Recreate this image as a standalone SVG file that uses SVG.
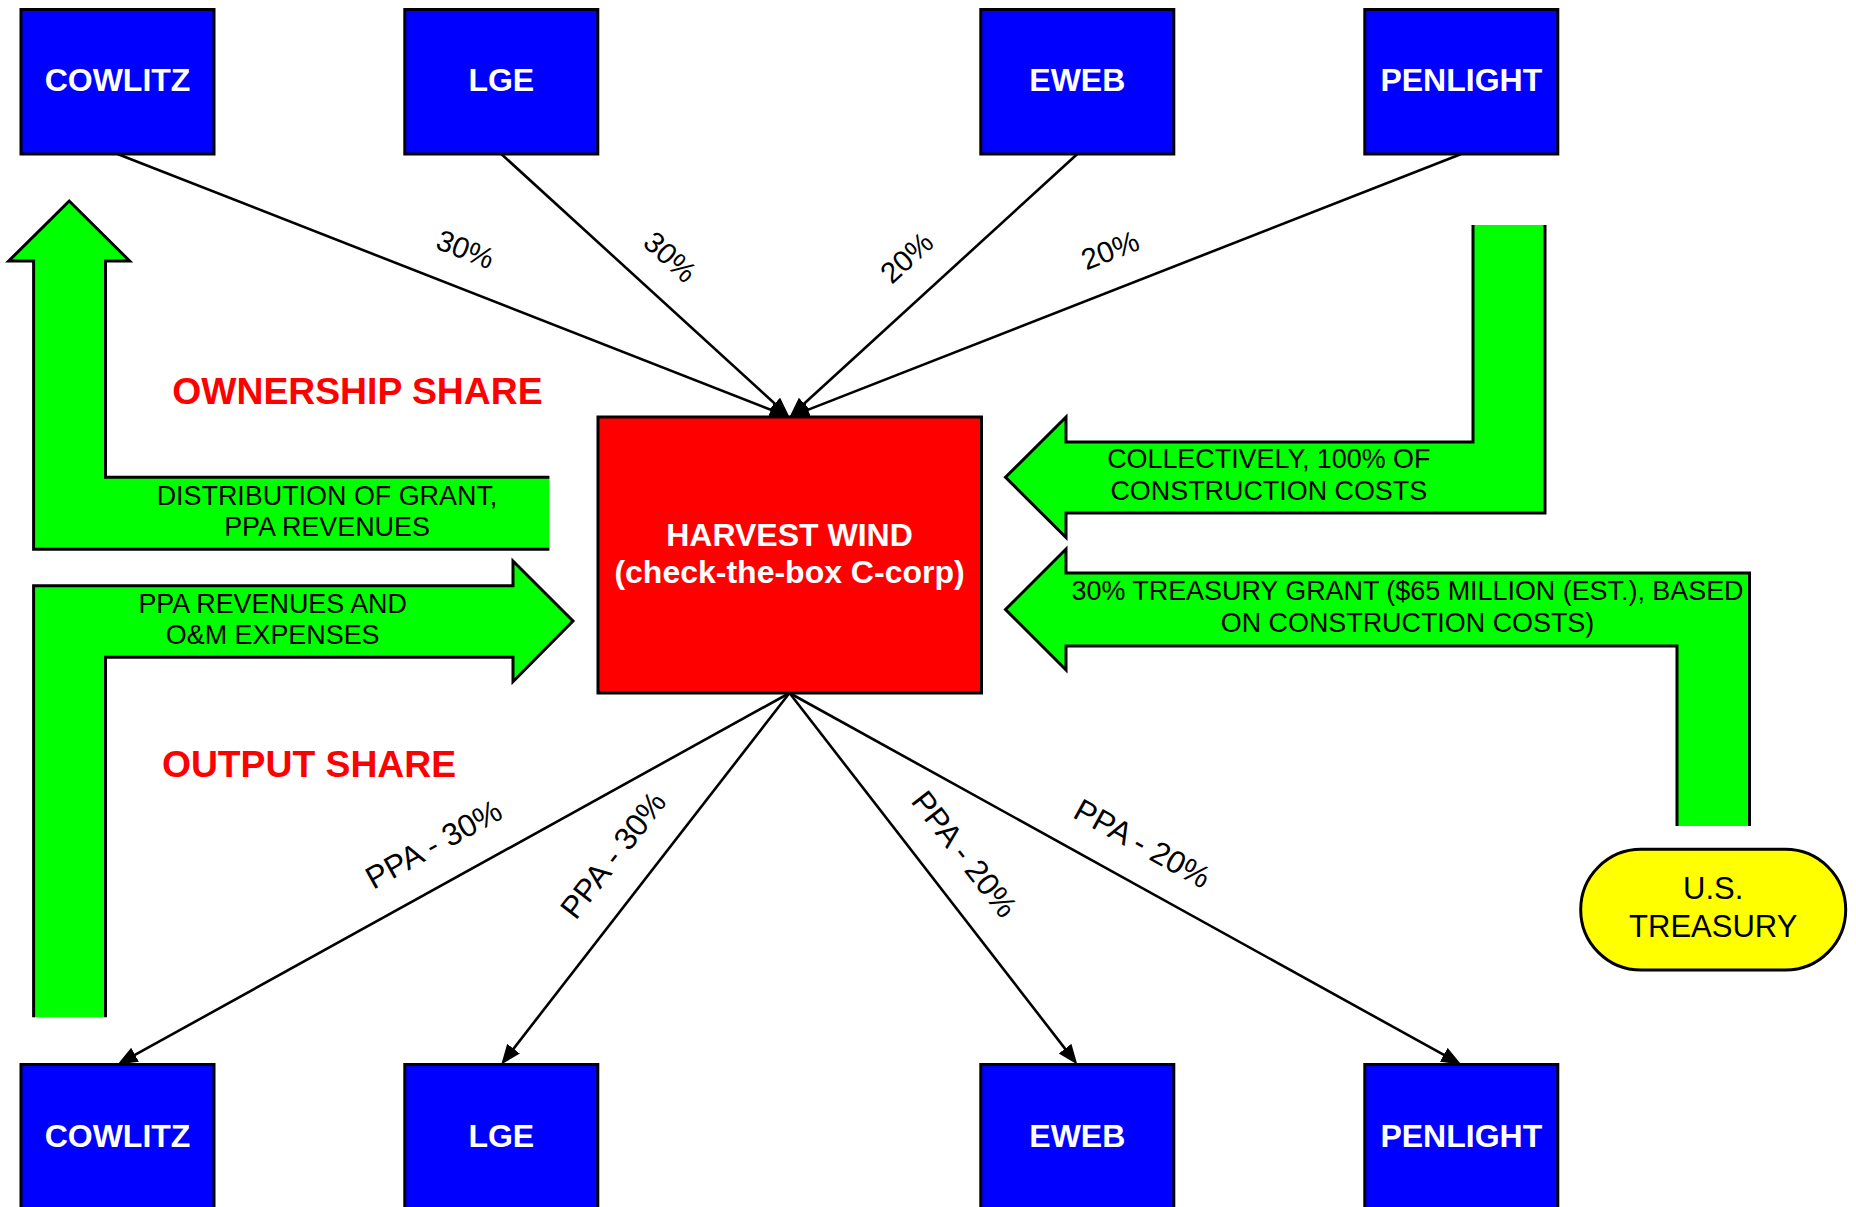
<svg xmlns="http://www.w3.org/2000/svg" width="1856" height="1207" viewBox="0 0 1856 1207">
<style>
.box{fill:#0000FF;stroke:#000;stroke-width:3}
.btxt{font-family:"Liberation Sans",Arial,sans-serif;font-weight:bold;font-size:32px;fill:#fff;text-anchor:middle}
.conn{stroke:#000;stroke-width:2.6;fill:none;marker-end:url(#ah)}
.lbl{font-family:"Liberation Sans",Arial,sans-serif;font-size:29.5px;fill:#000;text-anchor:middle}
.lbl2{font-family:"Liberation Sans",Arial,sans-serif;font-size:31.5px;fill:#000;text-anchor:middle}
.gfill{fill:#00FF00;stroke:none}
.gline{fill:none;stroke:#000;stroke-width:3;stroke-linejoin:miter}
.gtxt{font-family:"Liberation Sans",Arial,sans-serif;font-size:26.9px;fill:#000;text-anchor:middle}
.title{font-family:"Liberation Sans",Arial,sans-serif;font-weight:bold;font-size:37.3px;fill:#FF0000;text-anchor:middle}
</style>
<defs>
<marker id="ah" markerUnits="userSpaceOnUse" markerWidth="22" markerHeight="18" refX="10" refY="8" orient="auto">
<path d="M0,0 L20,8 L0,16 z" fill="#000"/>
</marker>
</defs>
<rect width="1856" height="1207" fill="#fff"/>

<g id="connectors">
<line class="conn" x1="117.5" y1="154" x2="780.2" y2="413.4"/>
<line class="conn" x1="501.3" y1="154" x2="782.1" y2="410.3"/>
<line class="conn" x1="1077.3" y1="154" x2="796.9" y2="410.3"/>
<line class="conn" x1="1461.3" y1="154" x2="798.8" y2="413.4"/>
<line class="conn" x1="789.5" y1="693" x2="126.3" y2="1059.7"/>
<line class="conn" x1="789.5" y1="693" x2="507.4" y2="1056.6"/>
<line class="conn" x1="789.5" y1="693" x2="1071.2" y2="1056.6"/>
<line class="conn" x1="789.5" y1="693" x2="1452.5" y2="1059.7"/>
<text class="lbl" transform="translate(465.6,249) rotate(21.37)" y="10.5">30%</text>
<text class="lbl" transform="translate(670.4,256.7) rotate(42.38)" y="10.5">30%</text>
<text class="lbl" transform="translate(906.4,257.3) rotate(-42.38)" y="10.5">20%</text>
<text class="lbl" transform="translate(1110,250) rotate(-21.37)" y="10.5">20%</text>
<text class="lbl2" transform="translate(433.6,844) rotate(-28.94)" y="11">PPA - 30%</text>
<text class="lbl2" transform="translate(613,855) rotate(-52.2)" y="11">PPA - 30%</text>
<text class="lbl2" transform="translate(964.6,854) rotate(52.2)" y="11">PPA - 20%</text>
<text class="lbl2" transform="translate(1142.5,843.3) rotate(28.94)" y="11">PPA - 20%</text>
</g>

<g id="arrow-distribution">
<polygon class="gfill" points="549.4,477.3 105.5,477.3 105.5,261 129.6,261 69.2,201 8.7,261 33.6,261 33.6,549.3 549.4,549.3"/>
<polyline class="gline" points="549.4,477.3 105.5,477.3 105.5,261 129.6,261 69.2,201 8.7,261 33.6,261 33.6,549.3 549.4,549.3"/>
<text class="gtxt" x="327" y="505">DISTRIBUTION OF GRANT,</text>
<text class="gtxt" x="327" y="536">PPA REVENUES</text>
</g>

<g id="arrow-ppa">
<polygon class="gfill" points="33.6,1017.3 33.6,585.7 513,585.7 513,561 573,621 513,681.7 513,657.3 105.5,657.3 105.5,1017.3"/>
<polyline class="gline" points="33.6,1017.3 33.6,585.7 513,585.7 513,561 573,621 513,681.7 513,657.3 105.5,657.3 105.5,1017.3"/>
<text class="gtxt" x="272.7" y="612.7">PPA REVENUES AND</text>
<text class="gtxt" x="272.7" y="644.3">O&amp;M EXPENSES</text>
</g>

<g id="arrow-construction">
<polygon class="gfill" points="1473,225 1473,442 1066,442 1066,417 1005.5,477.3 1066,537.5 1066,513 1545,513 1545,225"/>
<polyline class="gline" points="1473,225 1473,442 1066,442 1066,417 1005.5,477.3 1066,537.5 1066,513 1545,513 1545,225"/>
<text class="gtxt" x="1268.8" y="468.3">COLLECTIVELY, 100% OF</text>
<text class="gtxt" x="1268.8" y="500">CONSTRUCTION COSTS</text>
</g>

<g id="arrow-grant">
<polygon class="gfill" points="1677,826 1677,646 1066,646 1066,670 1005.5,609.5 1066,549 1066,573 1749.5,573 1749.5,826"/>
<polyline class="gline" points="1677,826 1677,646 1066,646 1066,670 1005.5,609.5 1066,549 1066,573 1749.5,573 1749.5,826"/>
<text class="gtxt" x="1407.5" y="600">30% TREASURY GRANT ($65 MILLION (EST.), BASED</text>
<text class="gtxt" x="1407.5" y="631.7">ON CONSTRUCTION COSTS)</text>
</g>

<g id="title-ownership"><text class="title" x="357.4" y="404">OWNERSHIP SHARE</text></g>
<g id="title-output"><text class="title" x="309" y="776.7">OUTPUT SHARE</text></g>

<g id="harvest-wind">
<rect x="598" y="417" width="383.5" height="276" fill="#FF0000" stroke="#000" stroke-width="3"/>
<text class="btxt" x="789.5" y="545.5">HARVEST WIND</text>
<text class="btxt" x="789.5" y="583">(check-the-box C-corp)</text>
</g>

<g id="top-cowlitz"><rect class="box" x="21" y="9.5" width="193" height="144.5"/><text class="btxt" x="117.5" y="90.5">COWLITZ</text></g>
<g id="top-lge"><rect class="box" x="404.8" y="9.5" width="193" height="144.5"/><text class="btxt" x="501.3" y="90.5">LGE</text></g>
<g id="top-eweb"><rect class="box" x="980.8" y="9.5" width="193" height="144.5"/><text class="btxt" x="1077.3" y="90.5">EWEB</text></g>
<g id="top-penlight"><rect class="box" x="1364.8" y="9.5" width="193" height="144.5"/><text class="btxt" x="1461.3" y="90.5">PENLIGHT</text></g>

<g id="bottom-cowlitz"><rect class="box" x="21" y="1064.5" width="193" height="146"/><text class="btxt" x="117.5" y="1146.5">COWLITZ</text></g>
<g id="bottom-lge"><rect class="box" x="404.8" y="1064.5" width="193" height="146"/><text class="btxt" x="501.3" y="1146.5">LGE</text></g>
<g id="bottom-eweb"><rect class="box" x="980.8" y="1064.5" width="193" height="146"/><text class="btxt" x="1077.3" y="1146.5">EWEB</text></g>
<g id="bottom-penlight"><rect class="box" x="1364.8" y="1064.5" width="193" height="146"/><text class="btxt" x="1461.3" y="1146.5">PENLIGHT</text></g>

<g id="us-treasury">
<rect x="1580.7" y="849.3" width="265" height="120.7" rx="60.35" ry="60.35" fill="#FFFF00" stroke="#000" stroke-width="3"/>
<text x="1713.2" y="899.3" style="font-family:'Liberation Sans',Arial,sans-serif;font-size:31px;fill:#000;text-anchor:middle">U.S.</text>
<text x="1713.2" y="937.3" style="font-family:'Liberation Sans',Arial,sans-serif;font-size:31px;fill:#000;text-anchor:middle">TREASURY</text>
</g>
</svg>
